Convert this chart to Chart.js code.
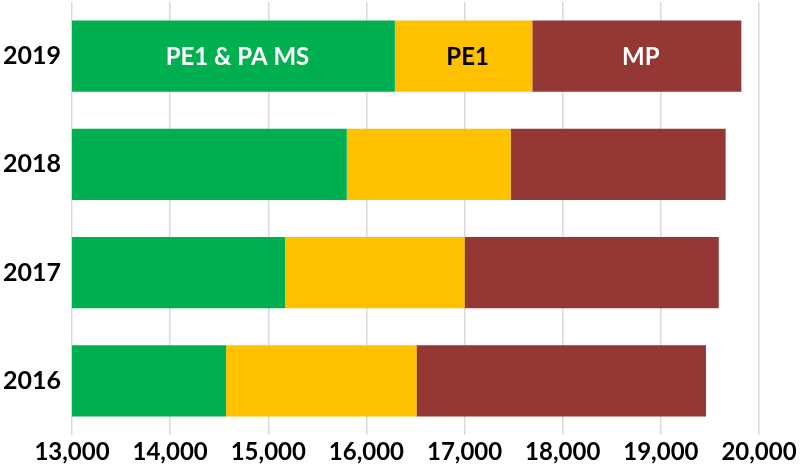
<!DOCTYPE html>
<html>
<head>
<meta charset="utf-8">
<script src="https://cdn.jsdelivr.net/npm/chart.js@4"></script>
<style>
  html, body { margin: 0; padding: 0; background: #fff; }
  #wrap { width: 800px; height: 465px; }
</style>
</head>
<body>
<div id="wrap"><canvas id="chart" width="800" height="465"></canvas></div>
<script>
// years, top to bottom
const years = ['2019', '2018', '2017', '2016'];
// green segment reaches this value (axis starts at 13,000)
const pe1PaMs = [16290, 15800, 15170, 14570];
// yellow and red segment widths
const pe1 = [1400, 1670, 1830, 1940];
const mp = [2130, 2190, 2590, 2950];
const seriesNames = ['PE1 & PA MS', 'PE1', 'MP'];
const labelColors = ['#ffffff', '#000000', '#ffffff'];
const xTicks = [13000, 14000, 15000, 16000, 17000, 18000, 19000, 20000];

// writes the series names inside the first (2019) bar
const barLabels = {
    id: 'barLabels',
    afterDatasetsDraw(chart) {
        const ctx = chart.ctx;
        ctx.save();
        ctx.font = 'bold 24px Lato, "Open Sans", sans-serif';
        ctx.textAlign = 'center';
        ctx.textBaseline = 'middle';
        chart.data.datasets.forEach((ds, i) => {
            const bar = chart.getDatasetMeta(i).data[0];
            const left = Math.max(bar.base, chart.chartArea.left);
            ctx.fillStyle = labelColors[i];
            ctx.fillText(seriesNames[i], (left + bar.x) / 2 + 4, bar.y + 1);
        });
        ctx.restore();
    }
};

new Chart(document.getElementById('chart'), {
    type: 'bar',
    data: {
        labels: years,
        datasets: [
            { label: seriesNames[0], data: pe1PaMs, backgroundColor: '#00b050' },
            { label: seriesNames[1], data: pe1, backgroundColor: '#ffc000' },
            { label: seriesNames[2], data: mp, backgroundColor: '#953735' }
        ]
    },
    options: {
        indexAxis: 'y',
        responsive: false,
        animation: false,
        layout: { padding: { top: 2, right: 41, left: 0, bottom: 0 } },
        datasets: { bar: { categoryPercentage: 1, barPercentage: 0.656, borderWidth: 0 } },
        plugins: { legend: { display: false }, tooltip: { enabled: false } },
        scales: {
            x: {
                stacked: true,
                min: 13000, max: 20000,
                afterBuildTicks: axis => { axis.ticks = xTicks.map(v => ({ value: v })); },
                afterFit: axis => { axis.height = 30; axis.paddingLeft = 0; axis.paddingRight = 0; },
                grid: { color: '#d9d9d9', lineWidth: 1.5, drawTicks: false },
                border: { display: false },
                ticks: {
                    color: '#000',
                    padding: 3,
                    font: { family: 'Lato, "Open Sans", sans-serif', size: 24, weight: 'bold' },
                    callback: v => v.toLocaleString('en-US')
                }
            },
            y: {
                stacked: true,
                afterFit: axis => { axis.width = 72; axis.paddingTop = 0; axis.paddingBottom = 0; },
                grid: { display: false, drawTicks: false },
                border: { display: false },
                ticks: {
                    color: '#000',
                    padding: 11,
                    font: { family: 'Lato, "Open Sans", sans-serif', size: 25, weight: 'bold' }
                }
            }
        }
    },
    plugins: [barLabels]
});
</script>
</body>
</html>
